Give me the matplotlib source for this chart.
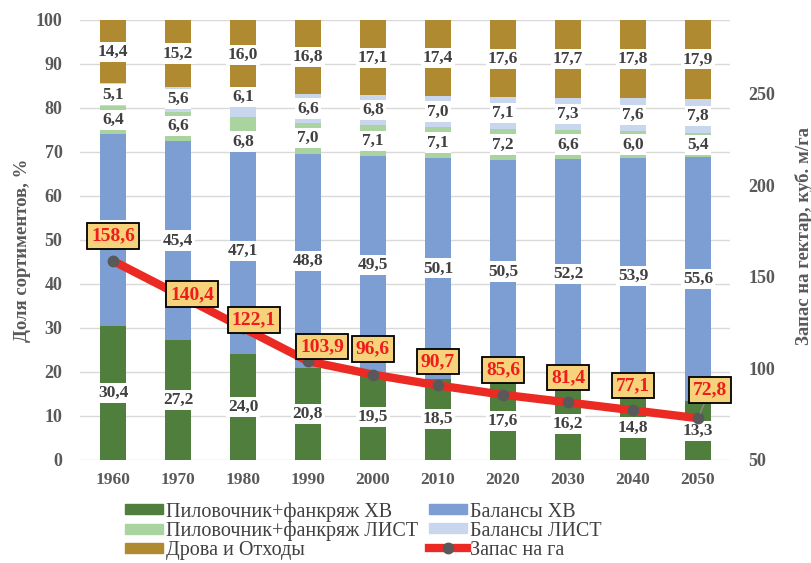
import matplotlib
matplotlib.use("Agg")
import matplotlib.pyplot as plt
from matplotlib.patches import Patch
from matplotlib.lines import Line2D
import numpy as np

plt.rcParams['font.family'] = ['Liberation Serif', 'DejaVu Serif']

years = ["1960", "1970", "1980", "1990", "2000", "2010", "2020", "2030", "2040", "2050"]
saw_conif = [30.4, 27.2, 24.0, 20.8, 19.5, 18.5, 17.6, 16.2, 14.8, 13.3]
pulp_conif = [43.7, 45.4, 47.1, 48.8, 49.5, 50.1, 50.5, 52.2, 53.9, 55.6]
saw_decid = [6.4, 6.6, 6.8, 7.0, 7.1, 7.1, 7.2, 6.6, 6.0, 5.4]
pulp_decid = [5.1, 5.6, 6.1, 6.6, 6.8, 7.0, 7.1, 7.3, 7.6, 7.8]
fuel = [14.4, 15.2, 16.0, 16.8, 17.1, 17.4, 17.6, 17.7, 17.8, 17.9]
stock = [158.6, 140.4, 122.1, 103.9, 96.6, 90.7, 85.6, 81.4, 77.1, 72.8]

series_names = ["Пиловочник+фанкряж ХВ", "Балансы ХВ", "Пиловочник+фанкряж ЛИСТ",
                "Балансы ЛИСТ", "Дрова и Отходы"]
line_name = "Запас на га"
colors = ["#507E3C", "#7C9ED3", "#A9D4A0", "#C8D7EE", "#B08A30"]

W, H = 812, 563
fig = plt.figure(figsize=(W / 100, H / 100), dpi=100)
L, R, T, B = 80.5, 730.5, 20, 460
ax = fig.add_axes([L / W, 1 - B / H, (R - L) / W, (B - T) / H])

x = np.arange(len(years))
series = [saw_conif, pulp_conif, saw_decid, pulp_decid, fuel]
bottom = np.zeros(len(years))
txtcol = "#404040"
# manual label nudges (series index, category index) -> offset in data units
nudge = {(2, 2): -2.1, (3, 2): 1.6}
for si, (vals, c) in enumerate(zip(series, colors)):
    vals = np.array(vals)
    ax.bar(x, vals, bottom=bottom, width=0.4, color=c, zorder=2)
    for i, (b, v) in enumerate(zip(bottom, vals)):
        yc = b + v / 2 + nudge.get((si, i), 0)
        ax.text(i, yc, f"{v:.1f}".replace(".", ","), ha="center", va="center",
                fontsize=12.5, fontweight="bold", color=txtcol, zorder=3,
                bbox=dict(boxstyle="square,pad=0.12", fc="white", ec="none"))
    bottom += vals

ax.set_xlim(-0.5, len(years) - 0.5)
ax.set_ylim(0, 100)
ax.set_yticks(range(0, 101, 10))
ax.set_xticks(x)
ax.set_xticklabels(years)
ax.yaxis.grid(True, color="#D9D9D9", lw=1.0, zorder=0)
ax.set_axisbelow(True)
for s in ax.spines.values():
    s.set_visible(False)
ax.tick_params(axis="both", length=0, labelsize=13, labelcolor="#595959")
ax.tick_params(axis="y", pad=13)
ax.tick_params(axis="x", pad=9, labelsize=12.5)
for lab in ax.get_xticklabels() + ax.get_yticklabels():
    lab.set_fontweight("bold")
ax.set_ylabel("Доля сортиментов, %", fontsize=13.5, fontweight="bold", color="#595959")
ax.yaxis.set_label_coords(-0.076, 0.477)

ax2 = ax.twinx()
ax2.set_ylim(50, 290)
ax2.set_yticks([50, 100, 150, 200, 250])
for s in ax2.spines.values():
    s.set_visible(False)
ax2.tick_params(axis="y", length=0, labelsize=13, labelcolor="#595959", pad=13)
for lab in ax2.get_yticklabels():
    lab.set_fontweight("bold")
ax2.set_ylabel("Запас на гектар, куб. м/га", fontsize=13.5, fontweight="bold",
               color="#595959", rotation=90)
ax2.yaxis.set_label_coords(1.099, 0.51)

ax2.plot(x, stock, color="#EC2A24", lw=6, solid_capstyle="butt", zorder=3)
ax2.plot(x, stock, ls="none", marker="o", ms=7.5, color="#595959", zorder=4)

# label offsets in pixels (dx, dy)
offs = [(0, 25), (14, 0), (11, 8), (14, 14.5), (0, 25.5), (0, 24), (0, 25),
        (0, 25), (0, 25), (12, 28)]
for i, (v, (dx, dy)) in enumerate(zip(stock, offs)):
    arrow = None
    if i == len(stock) - 1:
        arrow = dict(arrowstyle="-", color="#8C8C8C", lw=1, shrinkA=0, shrinkB=4)
    ax2.annotate(f"{v:.1f}".replace(".", ","), xy=(i, v), xytext=(dx * 0.72, dy * 0.72),
                 textcoords="offset points", ha="center", va="center",
                 fontsize=14, fontweight="bold", color="#EE1C1C", zorder=5,
                 bbox=dict(boxstyle="square,pad=0.22", fc="#F6D27A", ec="black", lw=1.3),
                 arrowprops=arrow)

handles = [Patch(color=colors[0]), Patch(color=colors[2]), Patch(color=colors[4]),
           Patch(color=colors[1]), Patch(color=colors[3]),
           Line2D([], [], color="#EC2A24", lw=6, marker="o", ms=7.5,
                  markerfacecolor="#595959", markeredgecolor="#595959")]
labels = [series_names[0], series_names[2], series_names[4],
          series_names[1], series_names[3], line_name]
fig.legend(handles, labels, ncol=2, loc="upper left", bbox_to_anchor=(115 / W, 1 - 492 / H),
           frameon=False, fontsize=14.5, handlelength=1.9, handleheight=0.4,
           handletextpad=0.12, columnspacing=0.55, labelspacing=0.0,
           labelcolor="#404040", borderpad=0)

fig.savefig("out.png", dpi=100)
